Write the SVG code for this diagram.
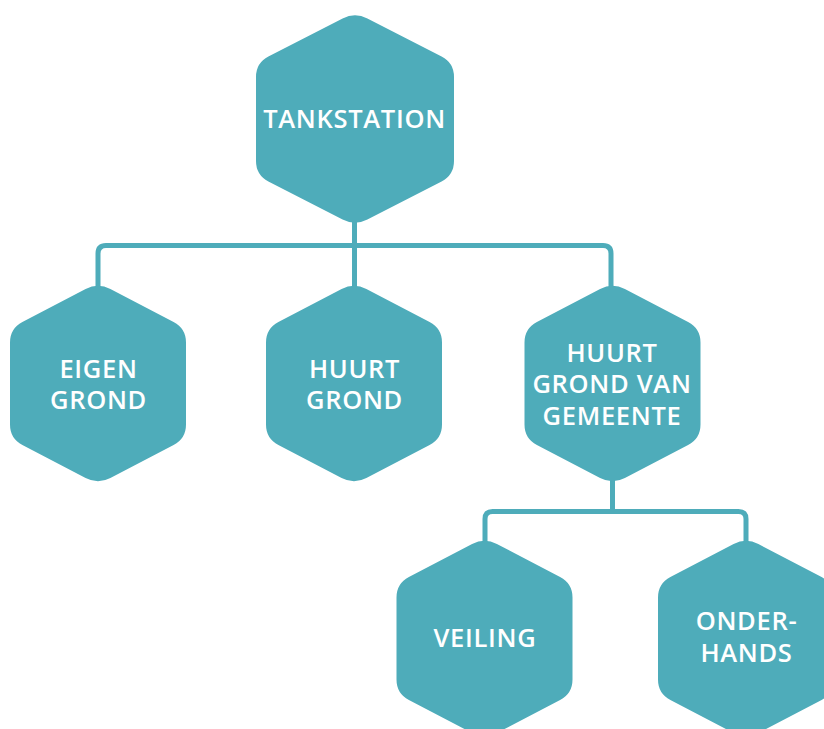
<svg xmlns="http://www.w3.org/2000/svg" xmlns:xlink="http://www.w3.org/1999/xlink" width="824" height="729" viewBox="0 0 824 729">
  <style>
    .hex { fill: #4EACBA; }
    .link { fill: none; stroke: #4EACBA; stroke-width: 5; }
    .label { fill: #FFFFFF; font-family: "Open Sans", "Liberation Sans", sans-serif; font-weight: 600; font-size: 25.5px; letter-spacing: 0.7px; text-anchor: middle; }
  </style>
  <defs>
    <!-- rounded pointy-top hexagons, centred on 0,0 -->
    <path id="hex-large" d="M-12.4,-100.6 Q0,-107 12.4,-100.6 L86.6,-62.4 Q99,-56 99,-42 L99,42 Q99,56 86.6,62.4 L12.4,100.6 Q0,107 -12.4,100.6 L-86.6,62.4 Q-99,56 -99,42 L-99,-42 Q-99,-56 -86.6,-62.4 Z"/>
    <path id="hex" d="M-12.4,-94.5 Q0,-101 12.4,-94.5 L75.6,-61.5 Q88,-55 88,-41 L88,41 Q88,55 75.6,61.5 L12.4,94.5 Q0,101 -12.4,94.5 L-75.6,61.5 Q-88,55 -88,41 L-88,-41 Q-88,-55 -75.6,-61.5 Z"/>
  </defs>
  <rect width="824" height="729" fill="#FFFFFF"/>

  <g id="connectors">
    <path class="link" d="M354.5,222 L354.5,290"/>
    <path class="link" d="M98,290 L98,253.5 Q98,245.5 106,245.5 L603,245.5 Q611,245.5 611,253.5 L611,290"/>
    <path class="link" d="M612.5,478 L612.5,511.5"/>
    <path class="link" d="M485,544 L485,519 Q485,511.5 492.5,511.5 L738.5,511.5 Q746,511.5 746,519 L746,544"/>
  </g>

  <g id="tankstation">
    <use xlink:href="#hex-large" class="hex" transform="translate(355,119)"/>
    <text class="label" x="354.5" y="128">TANKSTATION</text>
  </g>

  <g id="eigen-grond">
    <use xlink:href="#hex" class="hex" transform="translate(98,383.5)"/>
    <text class="label" x="98.5" y="378">EIGEN</text>
    <text class="label" x="98.5" y="409">GROND</text>
  </g>

  <g id="huurt-grond">
    <use xlink:href="#hex" class="hex" transform="translate(354,383.5)"/>
    <text class="label" x="354.5" y="378">HUURT</text>
    <text class="label" x="354.5" y="409">GROND</text>
  </g>

  <g id="huurt-grond-van-gemeente">
    <use xlink:href="#hex" class="hex" transform="translate(612.5,383.5)"/>
    <text class="label" x="612" y="362">HUURT</text>
    <text class="label" x="612" y="393">GROND VAN</text>
    <text class="label" x="612" y="425">GEMEENTE</text>
  </g>

  <g id="veiling">
    <use xlink:href="#hex" class="hex" transform="translate(484.5,638.5)"/>
    <text class="label" x="485" y="647">VEILING</text>
  </g>

  <g id="onderhands">
    <use xlink:href="#hex" class="hex" transform="translate(746,638.5)"/>
    <text class="label" x="746.5" y="630">ONDER-</text>
    <text class="label" x="746.5" y="662">HANDS</text>
  </g>
</svg>
